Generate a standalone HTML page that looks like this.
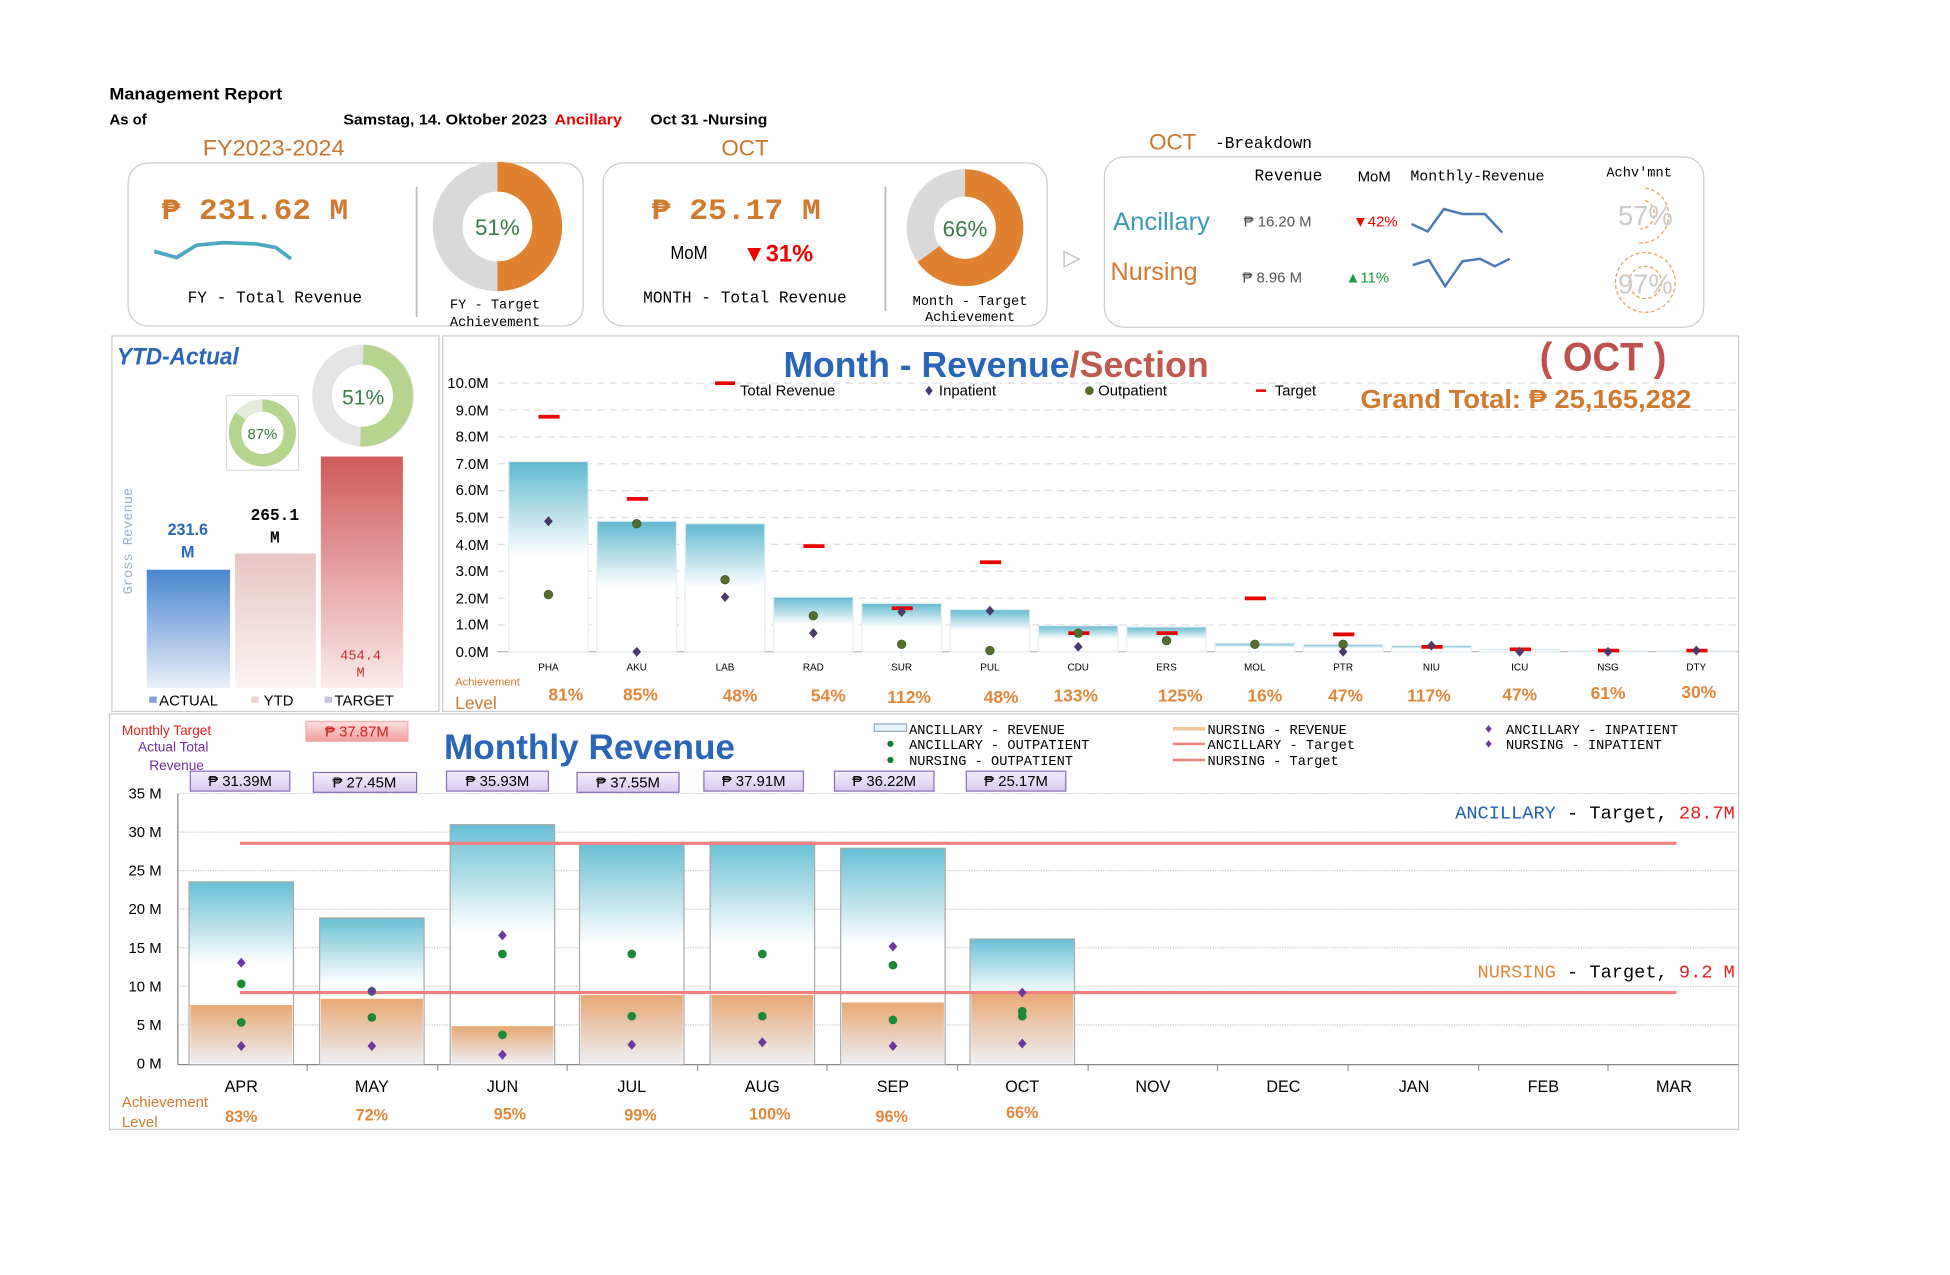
<!DOCTYPE html>
<html><head><meta charset="utf-8"><style>
html,body{margin:0;padding:0;background:#fff;width:1950px;height:1275px;overflow:hidden}
svg{display:block}
text{font-family:"Liberation Sans",sans-serif}
.m{font-family:"Liberation Mono",monospace}
</style></head><body>
<svg width="1950" height="1275" viewBox="0 0 1568 1025" xmlns="http://www.w3.org/2000/svg">
<defs>
<linearGradient id="tb" x1="0" y1="0" x2="0" y2="1"><stop offset="0" stop-color="#62b9d1"/><stop offset="0.5" stop-color="#ffffff"/><stop offset="1" stop-color="#ffffff"/></linearGradient>
<linearGradient id="mb" x1="0" y1="0" x2="0" y2="1"><stop offset="0" stop-color="#68bfd5"/><stop offset="0.45" stop-color="#ffffff"/><stop offset="1" stop-color="#ffffff"/></linearGradient>
<linearGradient id="nb" x1="0" y1="0" x2="0" y2="1"><stop offset="0" stop-color="#e8a873"/><stop offset="1" stop-color="#eeeef4"/></linearGradient>
<linearGradient id="ba" x1="0" y1="0" x2="0" y2="1"><stop offset="0" stop-color="#4a86cf"/><stop offset="1" stop-color="#e8eef8"/></linearGradient>
<linearGradient id="by" x1="0" y1="0" x2="0" y2="1"><stop offset="0" stop-color="#e9c4c4"/><stop offset="1" stop-color="#fbf3f3"/></linearGradient>
<linearGradient id="bt" x1="0" y1="0" x2="0" y2="1"><stop offset="0" stop-color="#d05a5a"/><stop offset="1" stop-color="#fbeaea"/></linearGradient>
<linearGradient id="lv" x1="0" y1="0" x2="0" y2="1"><stop offset="0" stop-color="#f4effc"/><stop offset="1" stop-color="#d6c8ef"/></linearGradient>
<linearGradient id="pk" x1="0" y1="0" x2="0" y2="1"><stop offset="0" stop-color="#fde0e0"/><stop offset="1" stop-color="#f59a9a"/></linearGradient>
</defs>

<!-- header -->
<text x="88" y="80" font-size="13" font-weight="bold" textLength="139" lengthAdjust="spacingAndGlyphs">Management Report</text>
<text x="88" y="100" font-size="12" font-weight="bold">As of</text>
<text x="276" y="100" font-size="12" font-weight="bold" textLength="164" lengthAdjust="spacingAndGlyphs">Samstag, 14. Oktober 2023</text>
<text x="446" y="100" font-size="12" font-weight="bold" fill="#e00" textLength="54" lengthAdjust="spacingAndGlyphs">Ancillary</text>
<text x="523" y="100" font-size="12" font-weight="bold" textLength="94" lengthAdjust="spacingAndGlyphs">Oct 31 -Nursing</text>
<text x="220" y="125" font-size="18" fill="#c8762e" text-anchor="middle" textLength="114" lengthAdjust="spacingAndGlyphs">FY2023-2024</text>
<text x="599" y="125" font-size="18" fill="#c8762e" text-anchor="middle">OCT</text>

<!-- card 1 -->
<rect x="103" y="131" width="366" height="131" rx="16" fill="#fff" stroke="#ccc"/>
<text x="130" y="176" font-size="24" font-weight="bold" fill="#d07a30" class="m" textLength="150" lengthAdjust="spacingAndGlyphs">₱ 231.62 M</text>
<polyline points="124,202 142,207 158,197 180,195 206,196 222,199 234,208" fill="none" stroke="#4aa8c0" stroke-width="3"/>
<text x="221" y="243" font-size="13" text-anchor="middle" class="m">FY - Total Revenue</text>
<line x1="335" y1="150" x2="335" y2="255" stroke="#bbb" stroke-width="1.5"/>
<circle cx="400" cy="182" r="40" fill="none" stroke="#d9d9d9" stroke-width="24"/>
<path d="M400,142 A40,40 0 0 1 400,222" fill="none" stroke="#e0812f" stroke-width="24"/>
<text x="400" y="189" font-size="18" text-anchor="middle" fill="#3d7a4a">51%</text>
<text x="398" y="248" font-size="11" text-anchor="middle" class="m">FY - Target</text>
<text x="398" y="262" font-size="11" text-anchor="middle" class="m">Achievement</text>

<!-- card 2 -->
<rect x="485" y="131" width="357" height="131" rx="16" fill="#fff" stroke="#ccc"/>
<text x="524" y="176" font-size="24" font-weight="bold" fill="#d07a30" class="m" textLength="136" lengthAdjust="spacingAndGlyphs">₱ 25.17 M</text>
<text x="539" y="208" font-size="15" textLength="30" lengthAdjust="spacingAndGlyphs">MoM</text>
<text x="597" y="210" font-size="19" font-weight="bold" fill="#e00">▼31%</text>
<text x="599" y="243" font-size="13" text-anchor="middle" class="m">MONTH - Total Revenue</text>
<line x1="712" y1="150" x2="712" y2="250" stroke="#bbb" stroke-width="1.5"/>
<circle cx="776" cy="183" r="36" fill="none" stroke="#d9d9d9" stroke-width="22"/>
<path d="M776,147 A36,36 0 1 1 746.7,204.2" fill="none" stroke="#e0812f" stroke-width="22"/>
<text x="776" y="190" font-size="18" text-anchor="middle" fill="#3d7a4a">66%</text>
<text x="780" y="245" font-size="11" text-anchor="middle" class="m">Month - Target</text>
<text x="780" y="258" font-size="11" text-anchor="middle" class="m">Achievement</text>
<text x="862" y="213" font-size="18" fill="#bbb" text-anchor="middle">▷</text>

<!-- card 3 -->
<text x="924" y="120" font-size="18" fill="#c8762e">OCT</text>
<text x="977" y="119" font-size="13" class="m">-Breakdown</text>
<rect x="888" y="126" width="482" height="137" rx="16" fill="#fff" stroke="#ccc"/>
<text x="1036" y="145" font-size="13" text-anchor="middle" class="m">Revenue</text>
<text x="1105" y="146" font-size="12" text-anchor="middle">MoM</text>
<text x="1188" y="145" font-size="12" text-anchor="middle" class="m">Monthly-Revenue</text>
<text x="1318" y="142" font-size="11" text-anchor="middle" class="m">Achv'mnt</text>
<text x="895" y="185" font-size="20" fill="#3a9ab0" textLength="78" lengthAdjust="spacingAndGlyphs">Ancillary</text>
<text x="1000" y="182" font-size="12" fill="#555">₱ 16.20 M</text>
<text x="1088" y="182" font-size="12" fill="#e00">▼42%</text>
<polyline points="1135,180 1148,186 1161,168 1176,172 1194,172 1208,187" fill="none" stroke="#4a78b5" stroke-width="2"/>
<text x="893" y="225" font-size="20" fill="#d07a30" textLength="70" lengthAdjust="spacingAndGlyphs">Nursing</text>
<text x="999" y="227" font-size="12" fill="#555">₱ 8.96 M</text>
<text x="1082" y="227" font-size="12" fill="#1a9a3a">▲11%</text>
<polyline points="1136,213 1149,209 1162,230 1176,210 1190,208 1202,214 1214,208" fill="none" stroke="#4a78b5" stroke-width="2"/>
<path d="M1323,151 A22,22 0 0 1 1316,195" fill="none" stroke="#e0a060" stroke-width="1" stroke-dasharray="3,2"/>
<path d="M1323,161 A12,12 0 0 1 1319,184" fill="none" stroke="#e0a060" stroke-width="1" stroke-dasharray="3,2"/>
<text x="1323" y="181" font-size="22" text-anchor="middle" fill="#ccc">57%</text>
<circle cx="1323" cy="227" r="24" fill="none" stroke="#e0a060" stroke-width="1" stroke-dasharray="3,2"/>
<circle cx="1323" cy="227" r="13" fill="none" stroke="#e0a060" stroke-width="1" stroke-dasharray="3,2"/>
<text x="1323" y="236" font-size="22" text-anchor="middle" fill="#ccc">97%</text>

<!-- YTD panel -->
<rect x="90" y="270" width="263" height="302" fill="#fff" stroke="#ccc"/>
<text x="94" y="293" font-size="19" font-weight="bold" font-style="italic" fill="#2a66b8" textLength="98" lengthAdjust="spacingAndGlyphs">YTD-Actual</text>
<rect x="182" y="318" width="58" height="60" fill="#fff" stroke="#ddd"/>
<circle cx="211" cy="348" r="22" fill="none" stroke="#e4ebdc" stroke-width="10"/>
<path d="M211,326 A22,22 0 1 1 193.6,334.6" fill="none" stroke="#b5d48e" stroke-width="10"/>
<text x="211" y="353" font-size="12" text-anchor="middle" fill="#3d7a4a">87%</text>
<circle cx="292" cy="318" r="33" fill="none" stroke="#e4e4e4" stroke-width="16"/>
<path d="M292,285 A33,33 0 0 1 289.9,351" fill="none" stroke="#b5d48e" stroke-width="16"/>
<text x="292" y="325" font-size="17" text-anchor="middle" fill="#3d7a4a">51%</text>
<rect x="118" y="458" width="67" height="95" fill="url(#ba)"/>
<rect x="189" y="445" width="65" height="108" fill="url(#by)"/>
<rect x="258" y="367" width="66" height="186" fill="url(#bt)"/>
<text x="151" y="430" font-size="13" font-weight="bold" fill="#2a66b8" text-anchor="middle">231.6</text>
<text x="151" y="448" font-size="13" font-weight="bold" fill="#2a66b8" text-anchor="middle">M</text>
<text x="221" y="418" font-size="13" font-weight="bold" text-anchor="middle" class="m">265.1</text>
<text x="221" y="436" font-size="13" font-weight="bold" text-anchor="middle" class="m">M</text>
<text x="290" y="530" font-size="11" fill="#c03030" text-anchor="middle" class="m">454.4</text>
<text x="290" y="544" font-size="11" fill="#c03030" text-anchor="middle" class="m">M</text>
<text x="106" y="435" font-size="11" fill="#9ab0c8" text-anchor="middle" transform="rotate(-90 106 435)" class="m">Gross Revenue</text>
<rect x="120" y="560" width="6" height="5" fill="#7fa0d0"/><text x="128" y="567" font-size="12">ACTUAL</text>
<rect x="202" y="560" width="6" height="5" fill="#f0d0d0"/><text x="212" y="567" font-size="12">YTD</text>
<rect x="261" y="560" width="6" height="5" fill="#c9c0e0"/><text x="269" y="567" font-size="12">TARGET</text>

<!-- Section chart -->
<rect x="356" y="270" width="1042" height="302" fill="#fff" stroke="#ccc"/>
<g stroke="#ddd" stroke-dasharray="6,4">
<line x1="400" y1="308" x2="1398" y2="308"/><line x1="400" y1="329.6" x2="1398" y2="329.6"/><line x1="400" y1="351.2" x2="1398" y2="351.2"/><line x1="400" y1="372.8" x2="1398" y2="372.8"/><line x1="400" y1="394.4" x2="1398" y2="394.4"/><line x1="400" y1="416" x2="1398" y2="416"/><line x1="400" y1="437.6" x2="1398" y2="437.6"/><line x1="400" y1="459.2" x2="1398" y2="459.2"/><line x1="400" y1="480.8" x2="1398" y2="480.8"/><line x1="400" y1="502.4" x2="1398" y2="502.4"/>
</g>
<line x1="400" y1="524" x2="1398" y2="524" stroke="#bbb"/>
<g font-size="12" text-anchor="end">
<text x="393" y="312">10.0M</text><text x="393" y="334">9.0M</text><text x="393" y="355">8.0M</text><text x="393" y="377">7.0M</text><text x="393" y="398">6.0M</text><text x="393" y="420">5.0M</text><text x="393" y="442">4.0M</text><text x="393" y="463">3.0M</text><text x="393" y="485">2.0M</text><text x="393" y="506">1.0M</text><text x="393" y="528">0.0M</text>
</g>
<g fill="url(#tb)" stroke="#e6eef2">
<rect x="409" y="371" width="64" height="153"/><rect x="480" y="419" width="64" height="105"/><rect x="551" y="421" width="64" height="103"/><rect x="622" y="480" width="64" height="44"/><rect x="693" y="485" width="64" height="39"/><rect x="764" y="490" width="64" height="34"/><rect x="835" y="503" width="64" height="21"/><rect x="906" y="504" width="64" height="20"/><rect x="977" y="517" width="64" height="7"/><rect x="1048" y="518" width="64" height="6"/><rect x="1119" y="519" width="64" height="5"/><rect x="1190" y="522" width="64" height="2"/><rect x="1261" y="523" width="64" height="1"/><rect x="1332" y="523" width="64" height="1"/>
</g>
<g stroke="#e00" stroke-width="3">
<line x1="433" y1="335" x2="450" y2="335"/><line x1="504" y1="401" x2="521" y2="401"/><line x1="646" y1="439" x2="663" y2="439"/><line x1="717" y1="489" x2="734" y2="489"/><line x1="788" y1="452" x2="805" y2="452"/><line x1="859" y1="509" x2="876" y2="509"/><line x1="930" y1="509" x2="947" y2="509"/><line x1="1001" y1="481" x2="1018" y2="481"/><line x1="1072" y1="510" x2="1089" y2="510"/><line x1="1143" y1="520" x2="1160" y2="520"/><line x1="1214" y1="522" x2="1231" y2="522"/><line x1="1285" y1="523" x2="1302" y2="523"/><line x1="1356" y1="523" x2="1373" y2="523"/>
</g>
<g fill="#556b2f" stroke="#3a5a20" stroke-width="0.5">
<circle cx="441" cy="478" r="3.5"/><circle cx="512" cy="421" r="3.5"/><circle cx="583" cy="466" r="3.5"/><circle cx="654" cy="495" r="3.5"/><circle cx="725" cy="518" r="3.5"/><circle cx="796" cy="523" r="3.5"/><circle cx="867" cy="509" r="3.5"/><circle cx="938" cy="515" r="3.5"/><circle cx="1009" cy="518" r="3.5"/><circle cx="1080" cy="518" r="3.5"/>
</g>
<g fill="#4a3a6a">
<path d="M441,415 l3.5,4 -3.5,4 -3.5,-4z"/><path d="M512,520 l3.5,4 -3.5,4 -3.5,-4z"/><path d="M583,476 l3.5,4 -3.5,4 -3.5,-4z"/><path d="M654,505 l3.5,4 -3.5,4 -3.5,-4z"/><path d="M725,488 l3.5,4 -3.5,4 -3.5,-4z"/><path d="M796,487 l3.5,4 -3.5,4 -3.5,-4z"/><path d="M867,516 l3.5,4 -3.5,4 -3.5,-4z"/><path d="M1080,520 l3.5,4 -3.5,4 -3.5,-4z"/><path d="M1151,515 l3.5,4 -3.5,4 -3.5,-4z"/><path d="M1222,520 l3.5,4 -3.5,4 -3.5,-4z"/><path d="M1293,520 l3.5,4 -3.5,4 -3.5,-4z"/><path d="M1364,519 l3.5,4 -3.5,4 -3.5,-4z"/>
</g>
<text x="630" y="303" font-size="29" font-weight="bold" fill="#2a66b8" textLength="230" lengthAdjust="spacingAndGlyphs">Month - Revenue</text>
<text x="860" y="303" font-size="29" font-weight="bold" fill="#c05a50" textLength="112" lengthAdjust="spacingAndGlyphs">/Section</text>
<text x="1238" y="298" font-size="32" font-weight="bold" fill="#c0504d" textLength="102" lengthAdjust="spacingAndGlyphs">( OCT )</text>
<text x="1094" y="328" font-size="21" font-weight="bold" fill="#d07a30" textLength="266" lengthAdjust="spacingAndGlyphs">Grand Total:  ₱ 25,165,282</text>
<line x1="575" y1="308" x2="591" y2="308" stroke="#e00" stroke-width="3"/><text x="595" y="318" font-size="12">Total Revenue</text>
<path d="M747,310 l3,4 -3,4 -3,-4z" fill="#4a3a6a"/><text x="755" y="318" font-size="12">Inpatient</text>
<circle cx="876" cy="314" r="3.5" fill="#556b2f"/><text x="883" y="318" font-size="12">Outpatient</text>
<line x1="1010" y1="314" x2="1018" y2="314" stroke="#e00" stroke-width="2"/><text x="1025" y="318" font-size="12">Target</text>
<g font-size="8" text-anchor="middle">
<text x="441" y="539">PHA</text><text x="512" y="539">AKU</text><text x="583" y="539">LAB</text><text x="654" y="539">RAD</text><text x="725" y="539">SUR</text><text x="796" y="539">PUL</text><text x="867" y="539">CDU</text><text x="938" y="539">ERS</text><text x="1009" y="539">MOL</text><text x="1080" y="539">PTR</text><text x="1151" y="539">NIU</text><text x="1222" y="539">ICU</text><text x="1293" y="539">NSG</text><text x="1364" y="539">DTY</text>
</g>
<text x="366" y="551" font-size="9" fill="#d07a30">Achievement</text>
<text x="366" y="570" font-size="14" fill="#d07a30">Level</text>
<g font-size="14" font-weight="bold" fill="#e0873a" text-anchor="middle">
<text x="455" y="563">81%</text><text x="515" y="563">85%</text><text x="595" y="564">48%</text><text x="666" y="564">54%</text><text x="731" y="565">112%</text><text x="805" y="565">48%</text><text x="865" y="564">133%</text><text x="949" y="564">125%</text><text x="1017" y="564">16%</text><text x="1082" y="564">47%</text><text x="1149" y="564">117%</text><text x="1222" y="563">47%</text><text x="1293" y="562">61%</text><text x="1366" y="561">30%</text>
</g>

<!-- Monthly panel -->
<rect x="88" y="574" width="1310" height="334" fill="#fff" stroke="#ccc"/>
<text x="98" y="591" font-size="11" fill="#e02020">Monthly Target</text>
<text x="111" y="604" font-size="11" fill="#7030a0">Actual Total</text>
<text x="120" y="619" font-size="11" fill="#7030a0">Revenue</text>
<rect x="246" y="580" width="82" height="16" fill="url(#pk)" stroke="#f0b0b0"/>
<text x="287" y="592" font-size="12" text-anchor="middle" fill="#d02020">₱ 37.87M</text>
<text x="357" y="610" font-size="28" font-weight="bold" fill="#2a66b8" textLength="234" lengthAdjust="spacingAndGlyphs">Monthly Revenue</text>
<g font-size="11">
<rect x="703" y="582" width="26" height="6" fill="#e4f2f8" stroke="#9ab"/><text x="731" y="590" class="m">ANCILLARY - REVENUE</text>
<circle cx="716" cy="598" r="2.5" fill="#1a7a3a"/><text x="731" y="602" class="m">ANCILLARY - OUTPATIENT</text>
<circle cx="716" cy="611" r="2.5" fill="#1a7a3a"/><text x="731" y="615" class="m">NURSING - OUTPATIENT</text>
<line x1="943" y1="586" x2="969" y2="586" stroke="#f0c8a0" stroke-width="3"/><text x="971" y="590" class="m">NURSING - REVENUE</text>
<line x1="943" y1="598" x2="969" y2="598" stroke="#f08080" stroke-width="2"/><text x="971" y="602" class="m">ANCILLARY - Target</text>
<line x1="943" y1="611" x2="969" y2="611" stroke="#f08080" stroke-width="2"/><text x="971" y="615" class="m">NURSING - Target</text>
<path d="M1197,583 l2.5,3 -2.5,3 -2.5,-3z" fill="#6a3aa0"/><text x="1211" y="590" class="m">ANCILLARY - INPATIENT</text>
<path d="M1197,595 l2.5,3 -2.5,3 -2.5,-3z" fill="#6a3aa0"/><text x="1211" y="602" class="m">NURSING - INPATIENT</text>
</g>
<g fill="url(#lv)" stroke="#8a70b8">
<rect x="153" y="620" width="80" height="16"/><rect x="252" y="621" width="83" height="16"/><rect x="359" y="620" width="82" height="16"/><rect x="464" y="621" width="82" height="16"/><rect x="566" y="620" width="80" height="16"/><rect x="671" y="620" width="80" height="16"/><rect x="777" y="620" width="80" height="16"/>
</g>
<g font-size="12" text-anchor="middle">
<text x="193" y="632">₱ 31.39M</text><text x="293" y="633">₱ 27.45M</text><text x="400" y="632">₱ 35.93M</text><text x="505" y="633">₱ 37.55M</text><text x="606" y="632">₱ 37.91M</text><text x="711" y="632">₱ 36.22M</text><text x="817" y="632">₱ 25.17M</text>
</g>
<g stroke="#ccc" stroke-dasharray="1,1">
<line x1="143" y1="638" x2="1398" y2="638"/><line x1="143" y1="669" x2="1398" y2="669"/><line x1="143" y1="700" x2="1398" y2="700"/><line x1="143" y1="731" x2="1398" y2="731"/><line x1="143" y1="762" x2="1398" y2="762"/><line x1="143" y1="793" x2="1398" y2="793"/><line x1="143" y1="824" x2="1398" y2="824"/>
</g>
<line x1="143" y1="638" x2="143" y2="856" stroke="#888"/>
<line x1="143" y1="856" x2="1398" y2="856" stroke="#888"/>
<g font-size="12" text-anchor="end">
<text x="130" y="642">35 M</text><text x="130" y="673">30 M</text><text x="130" y="704">25 M</text><text x="130" y="735">20 M</text><text x="130" y="766">15 M</text><text x="130" y="797">10 M</text><text x="130" y="828">5 M</text><text x="130" y="859">0 M</text>
</g>
<g fill="url(#mb)" stroke="#aaa">
<rect x="152" y="709" width="84" height="147"/><rect x="257" y="738" width="84" height="118"/><rect x="362" y="663" width="84" height="193"/><rect x="466" y="678" width="84" height="178"/><rect x="571" y="677" width="84" height="179"/><rect x="676" y="682" width="84" height="174"/><rect x="780" y="755" width="84" height="101"/>
</g>
<g fill="url(#nb)">
<rect x="153" y="808" width="82" height="47"/><rect x="258" y="803" width="82" height="52"/><rect x="363" y="825" width="82" height="30"/><rect x="467" y="800" width="82" height="55"/><rect x="572" y="800" width="82" height="55"/><rect x="677" y="806" width="82" height="49"/><rect x="781" y="798" width="82" height="57"/>
</g>
<line x1="193" y1="678" x2="1348" y2="678" stroke="#f08080" stroke-width="2.5"/>
<line x1="193" y1="798" x2="1348" y2="798" stroke="#f08080" stroke-width="2.5"/>
<g fill="#1a8a3a">
<circle cx="194" cy="791" r="3.5"/><circle cx="194" cy="822" r="3.5"/><circle cx="299" cy="797" r="3.5"/><circle cx="299" cy="818" r="3.5"/><circle cx="404" cy="767" r="3.5"/><circle cx="404" cy="832" r="3.5"/><circle cx="508" cy="767" r="3.5"/><circle cx="508" cy="817" r="3.5"/><circle cx="613" cy="767" r="3.5"/><circle cx="613" cy="817" r="3.5"/><circle cx="718" cy="776" r="3.5"/><circle cx="718" cy="820" r="3.5"/><circle cx="822" cy="813" r="3.5"/><circle cx="822" cy="817" r="3.5"/>
</g>
<g fill="#6a3aa0">
<path d="M194,770 l3.5,4 -3.5,4 -3.5,-4z"/><path d="M194,837 l3.5,4 -3.5,4 -3.5,-4z"/><path d="M299,793 l3.5,4 -3.5,4 -3.5,-4z"/><path d="M299,837 l3.5,4 -3.5,4 -3.5,-4z"/><path d="M404,748 l3.5,4 -3.5,4 -3.5,-4z"/><path d="M404,844 l3.5,4 -3.5,4 -3.5,-4z"/><path d="M508,836 l3.5,4 -3.5,4 -3.5,-4z"/><path d="M613,834 l3.5,4 -3.5,4 -3.5,-4z"/><path d="M718,757 l3.5,4 -3.5,4 -3.5,-4z"/><path d="M718,837 l3.5,4 -3.5,4 -3.5,-4z"/><path d="M822,794 l3.5,4 -3.5,4 -3.5,-4z"/><path d="M822,835 l3.5,4 -3.5,4 -3.5,-4z"/>
</g>
<g stroke="#999"><line x1="247" y1="856" x2="247" y2="861"/><line x1="352" y1="856" x2="352" y2="861"/><line x1="456" y1="856" x2="456" y2="861"/><line x1="561" y1="856" x2="561" y2="861"/><line x1="665" y1="856" x2="665" y2="861"/><line x1="770" y1="856" x2="770" y2="861"/><line x1="875" y1="856" x2="875" y2="861"/><line x1="979" y1="856" x2="979" y2="861"/><line x1="1084" y1="856" x2="1084" y2="861"/><line x1="1189" y1="856" x2="1189" y2="861"/><line x1="1293" y1="856" x2="1293" y2="861"/></g>
<g font-size="13" text-anchor="middle">
<text x="194" y="878">APR</text><text x="299" y="878">MAY</text><text x="404" y="878">JUN</text><text x="508" y="878">JUL</text><text x="613" y="878">AUG</text><text x="718" y="878">SEP</text><text x="822" y="878">OCT</text><text x="927" y="878">NOV</text><text x="1032" y="878">DEC</text><text x="1137" y="878">JAN</text><text x="1241" y="878">FEB</text><text x="1346" y="878">MAR</text>
</g>
<text x="98" y="890" font-size="12" fill="#d07a30">Achievement</text>
<text x="98" y="906" font-size="12" fill="#d07a30">Level</text>
<g font-size="13" font-weight="bold" fill="#e0873a" text-anchor="middle">
<text x="194" y="902">83%</text><text x="299" y="901">72%</text><text x="410" y="900">95%</text><text x="515" y="901">99%</text><text x="619" y="900">100%</text><text x="717" y="902">96%</text><text x="822" y="899">66%</text>
</g>
<text x="1395" y="658" font-size="15" text-anchor="end" class="m"><tspan fill="#1f5fb0">ANCILLARY</tspan> - Target, <tspan fill="#e02020">28.7M</tspan></text>
<text x="1395" y="786" font-size="15" text-anchor="end" class="m"><tspan fill="#e0873a">NURSING</tspan> - Target, <tspan fill="#e02020">9.2 M</tspan></text>
</svg>
</body></html>
